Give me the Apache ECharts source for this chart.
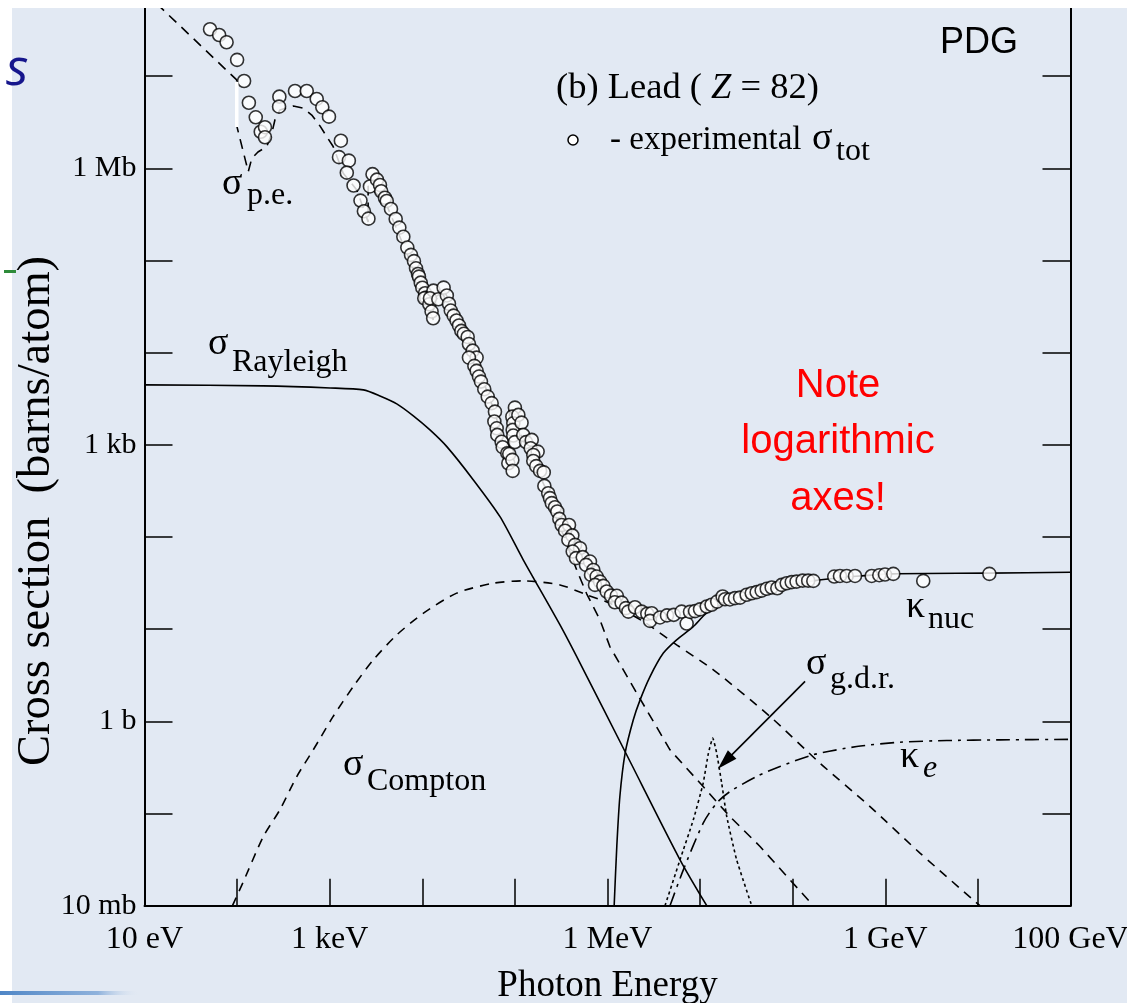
<!DOCTYPE html>
<html>
<head>
<meta charset="utf-8">
<script src="https://cdn.jsdelivr.net/npm/echarts@6/dist/echarts.min.js"></script>
<style>
  html, body { margin: 0; padding: 0; background: #fff; }
  #chart { width: 1143px; height: 1005px; }
</style>
</head>
<body>
<div id="chart"></div>
<script>
// photon cross sections in lead, energy in eV, cross section in barns/atom
// both axes are logarithmic: values go through log10 onto value axes

// tick labels
var xTickValues = [10, 1e3, 1e6, 1e9, 1e11];
var xTickNames = ['10 eV', '1 keV', '1 MeV', '1 GeV', '100 GeV'];
var yTickValues = [0.01, 1, 1e3, 1e6];
var yTickNames = ['10 mb', '1 b', '1 kb', '1 Mb'];

// experimental total cross section (open circles)
var expEnergy = [
  51, 64, 77, 100, 119, 134, 159, 180, 200, 200, 286, 284, 422, 565, 724, 832, 982,
  1320, 1260, 1610, 1530, 1810, 2150, 2340, 2620, 2900, 2720, 3240, 3490, 3600, 3950, 4130, 4590, 5160, 5650, 6240, 6890, 7550, 8130, 8550, 8990, 9200, 9620,
  1.00e4, 1.07e4, 1.10e4, 1.05e4, 1.19e4, 1.26e4, 1.31e4, 1.32e4, 1.21e4, 1.49e4, 1.70e4, 1.84e4, 1.94e4, 2.03e4, 2.18e4, 2.34e4, 2.49e4, 2.64e4, 2.81e4, 3.09e4, 3.19e4, 3.50e4, 3.86e4, 3.19e4, 3.65e4, 3.86e4, 4.09e4, 4.30e4, 4.67e4, 5.09e4, 5.61e4, 6.09e4, 6.00e4, 6.36e4, 6.45e4, 7.19e4, 7.38e4, 8.28e4, 8.49e4, 8.69e4, 9.38e4, 9.46e4,
  1.00e5, 9.38e4, 9.61e4, 9.46e4, 9.61e4, 1.00e5, 1.09e5, 1.18e5, 1.23e5, 1.32e5, 1.52e5, 1.48e5, 1.76e5, 1.58e5, 1.58e5, 1.70e5, 1.87e5, 2.05e5,
  2.08e5, 2.29e5, 2.39e5, 2.50e5, 2.71e5, 2.87e5, 3.02e5, 3.20e5, 3.84e5, 3.48e5, 4.17e5, 3.78e5, 4.46e5, 5.05e5, 4.21e5, 4.57e5, 5.40e5, 6.47e5, 5.86e5, 7.03e5, 6.64e5, 7.64e5, 8.30e5, 7.33e5, 9.02e5, 9.80e5,
  1.09e6, 1.26e6, 1.20e6, 1.42e6, 1.58e6, 1.68e6, 1.98e6, 2.34e6, 2.69e6, 3.00e6, 2.88e6, 3.69e6, 4.39e6, 5.19e6, 6.32e6, 7.16e6, 7.78e6, 8.81e6, 9.98e6,
  1.18e7, 1.33e7, 1.53e7, 1.75e7, 1.86e7, 2.10e7, 2.38e7, 2.70e7, 3.18e7, 3.61e7, 4.08e7, 4.62e7, 5.24e7, 5.93e7, 6.82e7, 7.61e7, 8.61e7, 9.75e7, 1.10e8, 1.28e8, 1.47e8, 1.67e8,
  2.81e8, 3.24e8, 3.83e8, 4.71e8, 7.13e8, 8.61e8, 9.93e8, 1.22e9, 2.57e9, 1.33e10
];
var expSigma = [
  3.22e7, 2.79e7, 2.33e7, 1.50e7, 8.85e6, 5.14e6, 3.57e6, 2.49e6, 2.79e6, 2.17e6, 5.98e6, 4.66e6, 6.89e6, 6.89e6, 5.65e6, 4.59e6, 3.63e6,
  1.99e6, 1.32e6, 1.21e6, 8.96e5, 6.50e5, 4.46e5, 3.42e5, 2.84e5, 8.63e5, 6.35e5, 7.52e5, 6.59e5, 5.63e5, 4.79e5, 4.42e5, 3.62e5, 2.82e5, 2.27e5, 1.81e5, 1.38e5, 1.15e5, 9.83e4, 8.22e4, 7.14e4, 6.67e4, 5.74e4,
  5.06e4, 4.41e4, 3.95e4, 3.89e4, 3.35e4, 2.79e4, 2.36e4, 4.70e4, 3.89e4, 3.79e4, 5.07e4, 4.17e4, 3.39e4, 2.86e4, 2.52e4, 2.23e4, 1.97e4, 1.72e4, 1.60e4, 1.48e4, 1.24e4, 1.05e4, 8.83e3, 8.83e3, 7.18e3, 6.34e3, 5.50e3, 4.85e3, 4.01e3, 3.33e3, 2.83e3, 2.29e3, 1.79e3, 1.51e3, 1.28e3, 1.08e3, 942, 811, 631, 796, 686, 521,
  2.53e3, 2.02e3, 1.71e3, 1.45e3, 1.26e3, 1.07e3, 2.11e3, 1.74e3, 1.28e3, 1.07e3, 1.13e3, 918, 844, 776, 668, 587, 521, 502,
  358, 298, 264, 233, 210, 189, 157, 135, 135, 117, 104, 93.0, 82.1, 75.6, 69.5, 58.9, 60.4, 54.1, 49.8, 43.9, 38.8, 37.2, 32.8, 30.2, 29.5, 25.6,
  23.1, 23.0, 19.6, 19.4, 16.9, 15.5, 17.3, 15.5, 14.7, 14.9, 12.3, 13.4, 14.1, 14.3, 15.5, 11.5, 15.4, 15.7, 16.4,
  17.6, 18.4, 19.9, 22.6, 21.1, 21.0, 21.7, 22.0, 23.6, 24.5, 25.2, 26.2, 27.4, 28.3, 27.8, 30.2, 31.5, 32.4, 32.8, 33.6, 33.6, 33.4,
  37.2, 37.8, 37.8, 37.8, 37.8, 38.5, 39.1, 39.8, 33.4, 39.8
];

// photoelectric (dashed)
var peEnergy = [10, 99, 99.8, 132, 144, 168, 209, 237, 256, 290, 405, 519, 640, 785, 929, 1090, 1400, 1960, 2600, 2600, 3950, 9440,
  1.31e4, 1.31e4, 1.48e4, 1.69e4, 1.69e4, 3.27e4, 6.09e4, 8.75e4, 8.75e4, 2.11e5, 4.69e5, 5.96e5, 8.30e5, 1.06e6, 2.07e6, 4.73e6, 9.98e6, 2.10e7, 4.44e7, 9.35e7, 1.67e8];
var peSigma = [8.17e7, 9.08e6, 2.81e6, 9.18e5, 1.28e6, 1.50e6, 1.72e6, 2.40e6, 3.34e6, 4.29e6, 4.74e6, 4.48e6, 3.78e6, 2.88e6, 2.20e6, 1.72e6, 8.83e5, 5.82e5, 2.62e5, 6.43e5, 4.42e5, 5.42e4,
  2.26e4, 4.55e4, 3.64e4, 3.37e4, 4.91e4, 1.21e4, 2.22e3, 590, 2.39e3, 349, 42.9, 24.2, 12.6, 6.47, 2.02, 0.491, 0.214, 0.0927, 0.0439, 0.0191, 0.01];

// Rayleigh (solid)
var rayEnergy = [10, 192, 1010, 2310, 3490, 5300, 8000, 1.21e4, 1.84e4, 3.56e4, 6.90e4, 1.23e5, 3.07e5, 5.05e5, 1.61e6, 6.07e6, 1.18e7];
var raySigma = [4.47e3, 4.36e3, 4.14e3, 3.94e3, 3.39e3, 2.78e3, 2.06e3, 1.45e3, 955, 416, 166, 56.5, 11.1, 4.28, 0.434, 0.0315, 0.01];

// Compton (dashed)
var comEnergy = [89.1, 117, 192, 290, 441, 665, 1090, 1800, 2960, 5300, 1.03e4, 2.35e4, 5.85e4, 1.23e5, 3.07e5, 5.96e5, 1.06e6, 2.44e6, 5.58e6, 1.39e7, 5.69e7, 1.97e8, 6.84e8, 2.37e9, 1.05e10];
var comSigma = [0.01, 0.0183, 0.0563, 0.110, 0.252, 0.491, 1.13, 2.39, 4.65, 8.67, 14.9, 24.6, 31.5, 33.4, 30.2, 23.6, 19.1, 12.1, 6.76, 3.62, 1.13, 0.352, 0.119, 0.0372, 0.01];

// pair production, nuclear field (solid)
var nucEnergy = [1.18e6, 1.26e6, 1.36e6, 1.55e6, 1.90e6, 2.25e6, 2.88e6, 4.01e6, 5.58e6, 8.38e6, 1.19e7, 2.70e7, 1.66e8, 1.21e9, 1.32e10, 1e11];
var nucSigma = [0.01, 0.0439, 0.153, 0.452, 1.04, 1.71, 3.06, 5.50, 7.66, 10.6, 15.0, 22.6, 33.4, 39.8, 40.5, 41.5];

// pair production, electron field (dash-dot)
var elEnergy = [4.73e6, 6.59e6, 1.08e7, 1.51e7, 2.10e7, 4.08e7, 7.29e7, 1.67e8, 4.91e8, 1.44e9, 4.60e9, 1.73e10, 1e11];
var elSigma = [0.01, 0.0245, 0.0787, 0.130, 0.173, 0.252, 0.324, 0.434, 0.533, 0.594, 0.619, 0.630, 0.638];

// giant dipole resonance (dotted)
var gdrEnergy = [4.18e6, 6.07e6, 8.45e6, 1.08e7, 1.23e7, 1.37e7, 1.51e7, 1.71e7, 1.94e7, 2.48e7, 3.61e7];
var gdrSigma = [0.01, 0.0315, 0.0855, 0.214, 0.452, 0.658, 0.452, 0.214, 0.0927, 0.0315, 0.01];

// arrow pointing at the g.d.r. peak (from label to curve)
var arrowEnergy = [1.36e8, 1.86e7];
var arrowSigma = [2.71, 0.366];

function zipLog(a, b) {
  var out = [];
  for (var i = 0; i < a.length; i++) out.push([Math.log10(a[i]), Math.log10(b[i])]);
  return out;
}

function tickName(values, names) {
  return function (v) {
    for (var i = 0; i < values.length; i++) {
      if (Math.abs(v - Math.log10(values[i])) < 1e-6) return names[i];
    }
    return '';
  };
}

var SERIF = '"Liberation Serif", "Times New Roman", serif';
var SANS = '"Liberation Sans", Arial, sans-serif';

// text placed by baseline
function label(txt, x, baseline, size, extra) {
  extra = extra || {};
  var st = {
    text: txt, x: 0, y: 0,
    font: (extra.italic ? 'italic ' : '') + size + 'px ' + (extra.family || SERIF),
    fill: extra.color || '#000',
    textAlign: extra.align || 'left',
    textVerticalAlign: 'middle'
  };
  return { type: 'text', x: x, y: baseline - 0.34 * size, z: 50, style: st, silent: true };
}

var lineBase = { color: '#000', width: 1.6 };

function axisCommon() {
  return {
    type: 'value',
    axisLine: { show: true, onZero: false, lineStyle: { color: '#000', width: 2 } },
    axisTick: { show: true, inside: true, lineStyle: { color: '#000', width: 1.5 } },
    splitLine: { show: false },
    minorTick: { show: false }
  };
}

var xAxis = Object.assign(axisCommon(), {
  min: 1, max: 11, interval: 1,
  axisLabel: { show: true, formatter: tickName(xTickValues, xTickNames), fontFamily: SERIF, fontSize: 32, color: '#000', margin: 18 },
  name: 'Photon Energy', nameLocation: 'middle', nameGap: 62,
  nameTextStyle: { fontFamily: SERIF, fontSize: 37, color: '#000' }
});
xAxis.axisTick.length = 27;

var yLeft = Object.assign(axisCommon(), {
  min: -2, max: 8, interval: 1,
  axisLabel: { show: true, formatter: tickName(yTickValues, yTickNames), fontFamily: SERIF, fontSize: 30, color: '#000', margin: 8 }
});
yLeft.axisTick.length = 28;

var yRight = Object.assign(axisCommon(), {
  min: -2, max: 8, interval: 1, position: 'right',
  axisLabel: { show: false }
});
yRight.axisTick.length = 28;

var chart = echarts.init(document.getElementById('chart'));
chart.setOption({
  animation: false,
  backgroundColor: '#e2e9f3',
  grid: { left: 144.5, right: 72.5, top: -16.1, bottom: 99.3, containLabel: false, outerBoundsMode: 'none' },
  xAxis: xAxis,
  yAxis: [yLeft, yRight],
  series: [
    {
      name: 'σ_p.e.', type: 'line', data: zipLog(peEnergy, peSigma), symbol: 'none', z: 3,
      lineStyle: Object.assign({ type: [10, 7] }, lineBase)
    },
    {
      name: 'σ_Rayleigh', type: 'line', data: zipLog(rayEnergy, raySigma), symbol: 'none', z: 3,
      smooth: 0.25,
      lineStyle: Object.assign({ type: 'solid' }, lineBase)
    },
    {
      name: 'σ_Compton', type: 'line', data: zipLog(comEnergy, comSigma), symbol: 'none', z: 3,
      smooth: 0.25,
      lineStyle: Object.assign({ type: [9, 7] }, lineBase)
    },
    {
      name: 'κ_nuc', type: 'line', data: zipLog(nucEnergy, nucSigma), symbol: 'none', z: 3,
      smooth: 0.25,
      lineStyle: Object.assign({ type: 'solid' }, lineBase)
    },
    {
      name: 'κ_e', type: 'line', data: zipLog(elEnergy, elSigma), symbol: 'none', z: 3,
      smooth: 0.25,
      lineStyle: Object.assign({ type: [14, 6, 3, 6] }, lineBase)
    },
    {
      name: 'σ_g.d.r.', type: 'line', data: zipLog(gdrEnergy, gdrSigma), symbol: 'none', z: 3,
      smooth: 0.15,
      lineStyle: Object.assign({ type: [3, 3] }, lineBase),
      markLine: {
        silent: true,
        symbol: ['none', 'path://M0,0 L6,20 L-6,20 Z'],
        symbolSize: [12, 20],
        label: { show: false },
        itemStyle: { color: '#000' },
        lineStyle: { color: '#000', width: 1.6, type: 'solid' },
        emphasis: { disabled: true },
        data: [[
          { coord: [Math.log10(arrowEnergy[0]), Math.log10(arrowSigma[0])] },
          { coord: [Math.log10(arrowEnergy[1]), Math.log10(arrowSigma[1])] }
        ]]
      }
    },
    {
      name: 'experimental σ_tot', type: 'scatter', data: zipLog(expEnergy, expSigma), z: 5,
      symbol: 'circle', symbolSize: 13,
      itemStyle: { color: '#fff', borderColor: '#000', borderWidth: 1.6 }
    }
  ],
  graphic: [
    // white frame of the slide
    { type: 'rect', shape: { x: 0, y: 0, width: 1143, height: 8 }, style: { fill: '#fff' }, z: 100, silent: true },
    { type: 'rect', shape: { x: 0, y: 0, width: 12, height: 1005 }, style: { fill: '#fff' }, z: 100, silent: true },
    { type: 'rect', shape: { x: 1127, y: 0, width: 16, height: 1005 }, style: { fill: '#fff' }, z: 100, silent: true },
    { type: 'rect', shape: { x: 0, y: 1003, width: 1143, height: 2 }, style: { fill: '#fff' }, z: 100, silent: true },
    // white gap on the p.e. curve
    { type: 'rect', shape: { x: 235, y: 82, width: 3.5, height: 45 }, style: { fill: '#fff' }, z: 40, silent: true },
    // slide fragments on the left
    { type: 'text', x: 6, y: 70, z: 110, silent: true,
      style: { text: 's', font: 'italic 52px "Open Sans", sans-serif', fill: '#16168c', textVerticalAlign: 'middle' } },
    { type: 'rect', shape: { x: 4, y: 270, width: 12, height: 3 }, style: { fill: '#2e8b3a' }, z: 110, silent: true },
    { type: 'rect', shape: { x: 0, y: 991, width: 140, height: 4 }, z: 110, silent: true,
      style: { fill: new echarts.graphic.LinearGradient(0, 0, 1, 0, [{ offset: 0, color: '#4f86c6' }, { offset: 0.7, color: '#8fb2dc' }, { offset: 1, color: 'rgba(226,233,243,0)' }]) } },

    // y axis title
    { type: 'text', x: 37, y: 511, rotation: Math.PI / 2, z: 50, silent: true,
      style: { text: 'Cross section  (barns/atom)', font: '46.5px ' + SERIF, fill: '#000', textAlign: 'center', textVerticalAlign: 'middle' } },

    // curve labels
    label('σ', 222, 197, 38), label('p.e.', 247, 206, 32),
    label('σ', 208, 357, 38), label('Rayleigh', 232, 373, 32),
    label('σ', 343, 778, 38), label('Compton', 367, 792, 32),
    label('κ', 906, 620, 38), label('nuc', 928, 630, 32),
    label('σ', 806, 677, 38), label('g.d.r.', 830, 690, 32),
    label('κ', 900, 770, 38), label('e', 923, 779, 32, { italic: true }),

    // legend block
    { type: 'text', x: 556, y: 88, z: 50, silent: true,
      style: {
        text: '(b) Lead ( {i|Z} = 82)', font: '36.5px ' + SERIF, fill: '#000', textVerticalAlign: 'middle',
        rich: { i: { fontStyle: 'italic', fontSize: 36.5, fontFamily: SERIF, fill: '#000' } }
      } },
    { type: 'circle', shape: { cx: 573, cy: 140, r: 5 }, style: { fill: '#fff', stroke: '#000', lineWidth: 1.5 }, z: 50, silent: true },
    label('- experimental', 610, 152, 33),
    label('σ', 812, 152, 38), label('tot', 836, 162, 32),

    // PDG mark
    label('PDG', 940, 55, 36, { family: SANS }),

    // note
    label('Note', 838, 400, 40, { family: SANS, color: '#ff0000', align: 'center' }),
    label('logarithmic', 838, 456, 40, { family: SANS, color: '#ff0000', align: 'center' }),
    label('axes!', 838, 513, 40, { family: SANS, color: '#ff0000', align: 'center' })
  ]
});
</script>
</body>
</html>
